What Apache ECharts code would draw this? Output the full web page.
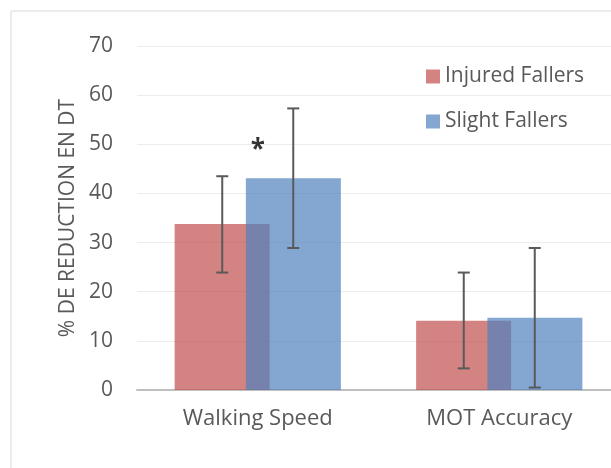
<!DOCTYPE html>
<html>
<head>
<meta charset="utf-8">
<script src="https://cdn.jsdelivr.net/npm/echarts@6/dist/echarts.min.js"></script>
<style>
  html, body { margin: 0; padding: 0; background: #fff; overflow: hidden; }
  #chart { width: 625px; height: 468px; }
</style>
</head>
<body>
<div id="chart"></div>
<script>
const categories = ['Walking Speed', 'MOT Accuracy']
const seriesNames = ['Injured Fallers', 'Slight Fallers']
const injured = [33.8, 14.1]
const injuredLow = [23.9, 4.4]
const injuredHigh = [43.5, 23.9]
const slight = [43.1, 14.7]
const slightLow = [28.9, 0.5]
const slightHigh = [57.3, 28.9]
const yTicks = [0, 10, 20, 30, 40, 50, 60, 70]
const markText = '*'
const markAt = [0, 48.8]

const BAR_W = 95
const BAR_OFFSET = 35.5
const FONT = "'Open Sans', 'Noto Sans', sans-serif"

// the plot runs past the right edge of the window, like the cropped original
const chart = echarts.init(document.getElementById('chart'), null, { renderer: 'canvas' })

// error bars drawn via custom series, shifted to each bar centre
const errorSeries = (low, high, offset) => ({
  type: 'custom',
  z: 5,
  silent: true,
  data: categories.map((c, i) => [i, low[i], high[i]]),
  renderItem: (params, api) => {
    const lo = api.coord([api.value(0), api.value(1)])
    const hi = api.coord([api.value(0), api.value(2)])
    const x = lo[0] + offset
    const cap = 6
    const style = { stroke: '#595959', lineWidth: 2 }
    return {
      type: 'group',
      children: [
        { type: 'line', shape: { x1: x, y1: hi[1], x2: x, y2: lo[1] }, style },
        { type: 'line', shape: { x1: x - cap, y1: hi[1], x2: x + cap, y2: hi[1] }, style },
        { type: 'line', shape: { x1: x - cap, y1: lo[1], x2: x + cap, y2: lo[1] }, style }
      ]
    }
  }
})

const option = {
  animation: false,
  textStyle: { fontFamily: FONT },
  graphic: [{
    type: 'rect',
    shape: { x: 11, y: 11, width: 800, height: 600 },
    style: { fill: 'none', stroke: '#d9d9d9', lineWidth: 1 },
    silent: true
  }],
  grid: { left: 137, right: 5, top: 46, bottom: 78 },
  legend: {
    orient: 'vertical',
    left: 421,
    top: 61,
    itemWidth: 14,
    itemHeight: 14,
    itemGap: 24,
    icon: 'rect',
    data: seriesNames,
    textStyle: { fontSize: 21, color: '#595959', fontFamily: FONT }
  },
  xAxis: {
    type: 'category',
    data: categories,
    axisLine: { lineStyle: { color: '#bfbfbf', width: 2 } },
    axisTick: { show: false },
    axisLabel: { fontSize: 22, color: '#595959', margin: 18 }
  },
  yAxis: {
    type: 'value',
    min: yTicks[0],
    max: yTicks[yTicks.length - 1],
    interval: 10,
    name: '% DE REDUCTION EN DT',
    nameLocation: 'middle',
    nameGap: 58,
    nameTextStyle: { fontSize: 21, color: '#595959' },
    axisLine: { show: false },
    axisTick: { show: false },
    axisLabel: { fontSize: 21, color: '#595959', margin: 24 },
    splitLine: { lineStyle: { color: '#ececec', width: 1 } }
  },
  series: [
    {
      name: seriesNames[0],
      type: 'bar',
      data: injured,
      barWidth: BAR_W,
      barGap: '-25%',
      itemStyle: { color: 'rgba(192, 80, 77, 0.7)' }
    },
    {
      name: seriesNames[1],
      type: 'bar',
      data: slight,
      barWidth: BAR_W,
      barGap: '-25%',
      itemStyle: { color: 'rgba(79, 129, 189, 0.7)' }
    },
    errorSeries(injuredLow, injuredHigh, -BAR_OFFSET),
    errorSeries(slightLow, slightHigh, BAR_OFFSET),
    {
      name: 'significance',
      type: 'scatter',
      data: [markAt],
      symbolSize: 1,
      itemStyle: { color: 'rgba(0,0,0,0)' },
      silent: true,
      label: {
        show: true,
        formatter: markText,
        position: 'inside',
        fontSize: 26,
        fontWeight: 'bold',
        color: '#000'
      }
    }
  ]
}

chart.setOption(option)
</script>
</body>
</html>
